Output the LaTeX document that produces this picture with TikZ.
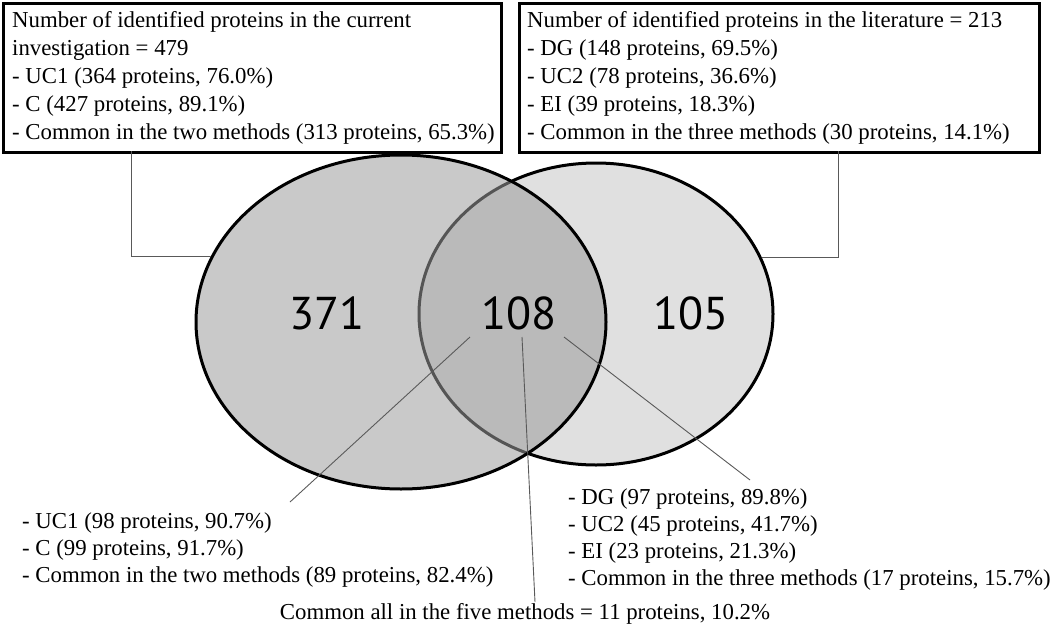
\documentclass[tikz,border=0pt]{standalone}
\usepackage{fontspec}
\setmainfont{Liberation Serif}
\newfontfamily\numfont{PT Sans}
\usetikzlibrary{shapes.geometric, positioning, calc}

\begin{document}
\begin{tikzpicture}[
    x=1pt, y=-1pt,
    infobox/.style={rectangle, draw, line width=3pt, anchor=north west, minimum height=149pt, inner sep=0pt},
    info/.style={align=left, inner sep=0pt, anchor=north west, font=\fontsize{22.8}{28}\selectfont},
    sublist/.style={info, font=\fontsize{22.8}{27}\selectfont},
    set/.style={ellipse, draw, line width=3pt, inner sep=0pt},
    count/.style={font=\numfont\fontsize{46}{46}\selectfont},
    lead/.style={draw=black!65, line width=0.9pt}
]
\useasboundingbox (0,0) rectangle (1050,635);

% summary boxes
\node[infobox, minimum width=498pt] (curbox) at (2,2) {};
\node[info] (curtext) at (12,11.4) {Number of identified proteins in the current\\investigation = 479\\- UC1 (364 proteins, 76.0\%)\\- C (427 proteins, 89.1\%)\\- Common in the two methods (313 proteins, 65.3\%)};
\node[infobox, minimum width=520pt] (litbox) at (518,2) {};
\node[info] (littext) at (527,11.4) {Number of identified proteins in the literature = 213\\- DG (148 proteins, 69.5\%)\\- UC2 (78 proteins, 36.6\%)\\- EI (39 proteins, 18.3\%)\\- Common in the three methods (30 proteins, 14.1\%)};

% venn sets
\node[set, fill=black!12, minimum width=354pt, minimum height=302pt] (lit) at (596,314) {};
\node[set, fill=black!39, fill opacity=0.55, minimum width=410pt, minimum height=334pt] (cur) at (401,322) {};

\node[count] (n371) at (327,313) {371};
\node[count] (n108) at (519,313) {108};
\node[count] (n105) at (691,313) {105};

\coordinate (curtap) at (131,151);
\coordinate (littap) at (838,151);
\draw[lead] (cur.161) -| (curtap);
\draw[lead] (lit.19) -| (littap);

% overlap details
\node[sublist] (twolist) at (22,512) {- UC1 (98 proteins, 90.7\%)\\- C (99 proteins, 91.7\%)\\- Common in the two methods (89 proteins, 82.4\%)};
\node[sublist] (threelist) at (568,488) {- DG (97 proteins, 89.8\%)\\- UC2 (45 proteins, 41.7\%)\\- EI (23 proteins, 21.3\%)\\- Common in the three methods (17 proteins, 15.7\%)};
\node[info, anchor=base] (fivecommon) at (525,619) {Common all in the five methods = 11 proteins, 10.2\%};

\coordinate (lA) at (470,337);
\coordinate (lB) at (522,337);
\coordinate (lC) at (564,337);
\coordinate (eA) at (290,502);
\coordinate (eB) at (535,602);
\coordinate (eC) at (750,480);
\draw[lead] (lA) -- (eA);
\draw[lead] (lB) -- (eB);
\draw[lead] (lC) -- (eC);

\end{tikzpicture}
\end{document}
